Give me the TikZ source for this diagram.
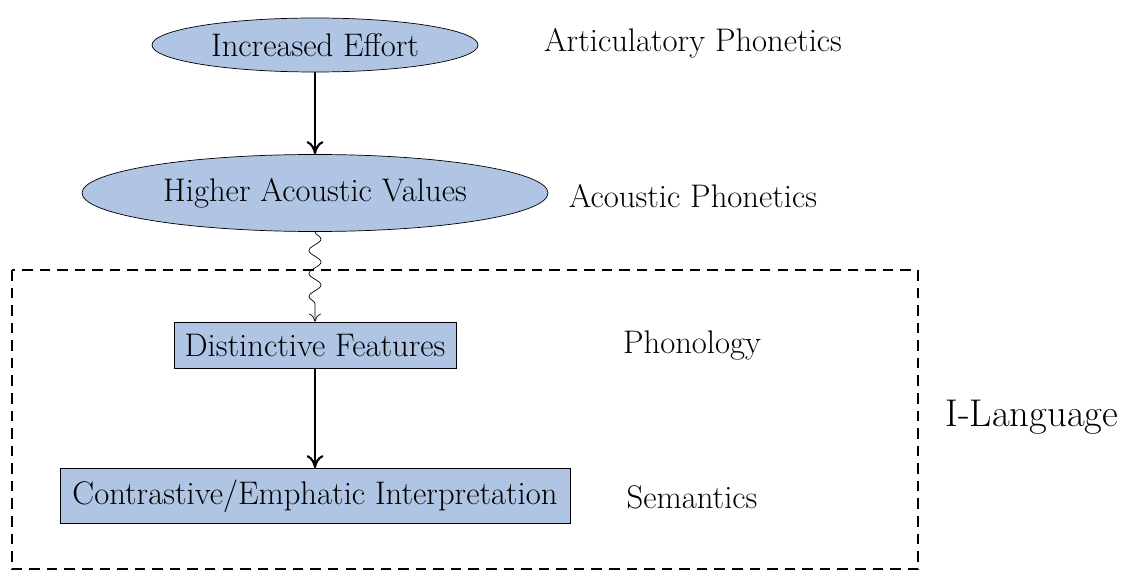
\documentclass[tikz,border=0pt]{standalone}
\usetikzlibrary{shapes.geometric,decorations.pathmorphing,arrows.meta}
\definecolor{boxblue}{RGB}{176,196,228}
\begin{document}
\begin{tikzpicture}[x=0.02cm,y=-0.02cm,
  blob/.style={ellipse,draw,fill=boxblue,inner sep=0pt},
  level/.style={rectangle,draw,fill=boxblue,inner sep=0pt,minimum height=46*0.02cm},
  tag/.style={font=\fontsize{18.6}{22}\selectfont},
  goes/.style={-{To[length=2.6mm,width=3.4mm]},line width=1.2pt}]
\useasboundingbox (0,0) rectangle (1123,571);
\node[blob,minimum width=326*0.02cm,minimum height=54*0.02cm,tag] (effort) at (315,45) {Increased Effort};
\node[blob,minimum width=466*0.02cm,minimum height=77*0.02cm,tag] (acoustic) at (315,193) {Higher Acoustic Values};
\node[level,minimum width=282*0.02cm,tag] (features) at (315,345) {Distinctive Features};
\node[level,minimum width=510*0.02cm,minimum height=55*0.02cm,tag] (interp) at (315,496) {Contrastive/Emphatic Interpretation};
\node[tag] (artic) at (693,43) {Articulatory Phonetics};
\node[tag] (acph) at (693,196) {Acoustic Phonetics};
\node[tag] (phon) at (692,345) {Phonology};
\node[tag] (sem) at (692,497) {Semantics};
\node[font=\fontsize{22}{26}\selectfont] (ilang) at (1032,417) {I-Language};
\draw[line width=1.2pt,dash pattern=on 6pt off 4pt] (12,270) rectangle (918,569);
\draw[goes] (effort) -- (acoustic);
\draw[-{To[length=1.6mm,width=2.4mm]},decorate,decoration={snake,amplitude=1.2mm,segment length=4.6mm,post length=1.5mm}] (acoustic) -- (features);
\draw[goes] (features) -- (interp);
\end{tikzpicture}
\end{document}
